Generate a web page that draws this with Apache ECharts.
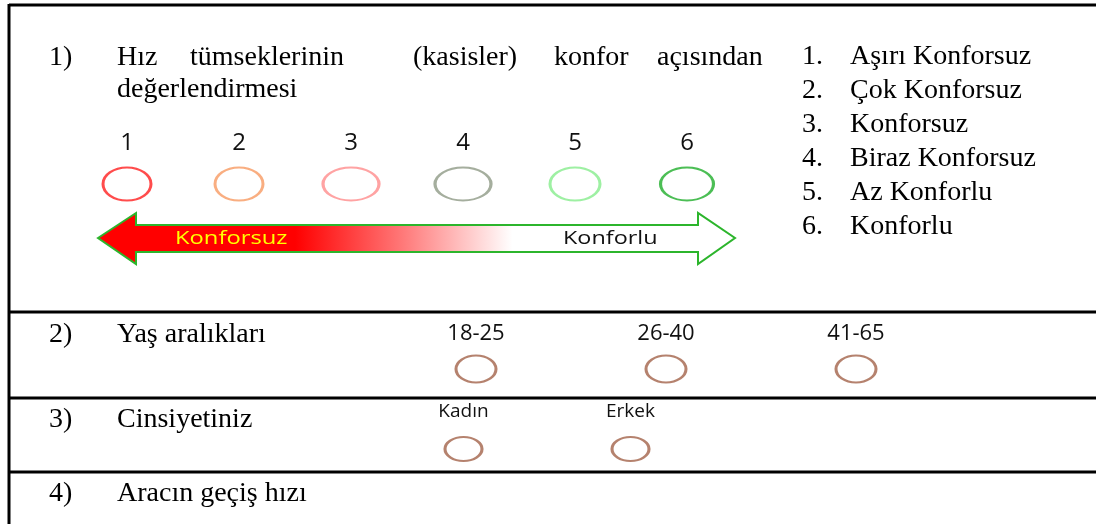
<!DOCTYPE html>
<html lang="tr">
<head>
  <meta charset="UTF-8">
  <title>anket</title>
  <style>
    html, body {
      height: 100%;
      width: 100%;
      margin: 0;
      padding: 0;
      background: #fff;
    }
  </style>
  <script src="https://cdn.jsdelivr.net/npm/echarts@6/dist/echarts.min.js"></script>
</head>
<body>
<div id="main" style="width: 100%; height: 100%;"></div>

<script>
  // survey content
  var scaleLevels = ['1', '2', '3', '4', '5', '6'];
  var scaleNames = ['Aşırı Konforsuz', 'Çok Konforsuz', 'Konforsuz', 'Biraz Konforsuz', 'Az Konforlu', 'Konforlu'];
  var ageGroups = ['18-25', '26-40', '41-65'];
  var genders = ['Kadın', 'Erkek'];
  var questions = [
    'Hız tümseklerinin (kasisler) konfor açısından değerlendirmesi',
    'Yaş aralıkları',
    'Cinsiyetiniz',
    'Aracın geçiş hızı'
  ];
  var arrowLabels = ['Konforsuz', 'Konforlu'];

  // styles
  var scaleColors = ['#ff1f1f', '#f79a62', '#ff8c8c', '#8e9a86', '#86ec8c', '#1fae2a'];
  var scaleSizes = [[48, 33], [48, 33], [56, 33], [56, 33], [50, 33], [53, 33]];
  var brown = '#a3634a';
  var ellipse = 'path://M0,1 A1,1 0 1,1 2,1 A1,1 0 1,1 0,1 Z';
  var serif = '"Liberation Serif", "Times New Roman", serif';
  var sans = '"Open Sans", "Noto Sans", sans-serif';

  var chartDom = document.getElementById('main');
  var myChart = echarts.init(chartDom);

  function optionRow(cats, gridIdx, fontSize, margin) {
    return {
      x: {
        type: 'category', data: cats, gridIndex: gridIdx, position: 'top',
        axisLine: { show: false }, axisTick: { show: false }, splitLine: { show: false },
        axisLabel: { fontFamily: sans, fontSize: fontSize, color: '#111', margin: margin }
      },
      y: {
        type: 'value', gridIndex: gridIdx, min: -1, max: 1, show: false
      }
    };
  }

  var rowA = optionRow(scaleLevels, 0, 24, 28);
  var rowB = optionRow(ageGroups, 1, 22, 23);
  var rowC = optionRow(genders, 2, 19, 27);

  // text pieces (decoration, not data)
  var g = [];
  function line(x1, y1, x2, y2) {
    g.push({ type: 'line', shape: { x1: x1, y1: y1, x2: x2, y2: y2 }, style: { stroke: '#000', lineWidth: 3 } });
  }
  function txt(s, x, y, opts) {
    opts = opts || {};
    g.push({
      type: 'text', x: x, y: y, scaleX: opts.scaleX || 1,
      style: {
        text: s, fill: opts.color || '#000', fontFamily: opts.font || serif,
        fontSize: opts.size || 28, align: opts.align || 'left', verticalAlign: 'middle',
        fontWeight: 'normal'
      }
    });
  }

  // table borders
  line(9, 5, 1096, 5);
  line(9, 4, 9, 524);
  line(9, 312, 1096, 312);
  line(9, 398, 1096, 398);
  line(9, 472, 1096, 472);

  // question 1, justified first line
  var q1Words = questions[0].split(' ');
  var q1X = [117, 190, 413, 554, 657];
  txt('1)', 49, 58);
  for (var i = 0; i < 5; i++) txt(q1Words[i], q1X[i], 58);
  txt(q1Words[5], 117, 90);

  // answer key on the right
  scaleNames.forEach(function (n, i) {
    txt((i + 1) + '.', 802, 57 + i * 34);
    txt(n, 850, 57 + i * 34);
  });

  // other questions
  var rowY = [335, 420, 494];
  for (var k = 1; k < questions.length; k++) {
    txt((k + 1) + ')', 49, rowY[k - 1]);
    txt(questions[k], 117, rowY[k - 1]);
  }

  // double arrow
  g.push({
    type: 'polygon',
    shape: {
      points: [[98, 238], [136, 213], [136, 225], [698, 225], [698, 213], [735, 238],
        [698, 264], [698, 252], [136, 252], [136, 264]]
    },
    style: {
      fill: new echarts.graphic.LinearGradient(0, 0, 1, 0, [
        { offset: 0, color: '#ff0000' },
        { offset: 0.31, color: '#ff0000' },
        { offset: 0.48, color: '#ff7a7a' },
        { offset: 0.65, color: '#ffffff' },
        { offset: 1, color: '#ffffff' }
      ]),
      stroke: '#2cb52c',
      lineWidth: 2
    }
  });
  txt(arrowLabels[0], 175, 239, { font: sans, size: 18, color: '#ffff00', scaleX: 1.32 });
  txt(arrowLabels[1], 563, 239, { font: sans, size: 18, color: '#111', scaleX: 1.3 });

  function circles(cats, colors, sizes) {
    return cats.map(function (c, i) {
      return {
        value: [c, 0],
        symbolSize: sizes ? sizes[i] : undefined,
        itemStyle: { color: '#fff', borderColor: colors ? colors[i] : brown, borderWidth: 2.5 }
      };
    });
  }

  var option = {
    backgroundColor: '#fff',
    animation: false,
    grid: [
      { left: 71, width: 672, top: 183, height: 2 },
      { left: 381, width: 570, top: 368, height: 2 },
      { left: 380, width: 334, top: 448, height: 2 }
    ],
    xAxis: [rowA.x, rowB.x, rowC.x],
    yAxis: [rowA.y, rowB.y, rowC.y],
    series: [
      {
        type: 'scatter', xAxisIndex: 0, yAxisIndex: 0, symbol: ellipse,
        data: circles(scaleLevels, scaleColors, scaleSizes), z: 5
      },
      {
        type: 'scatter', xAxisIndex: 1, yAxisIndex: 1, symbol: ellipse, symbolSize: [40, 27],
        data: circles(ageGroups), z: 5
      },
      {
        type: 'scatter', xAxisIndex: 2, yAxisIndex: 2, symbol: ellipse, symbolSize: [37, 24],
        data: circles(genders), z: 5
      }
    ],
    graphic: g
  };

  myChart.setOption(option);
</script>
</body>
</html>
